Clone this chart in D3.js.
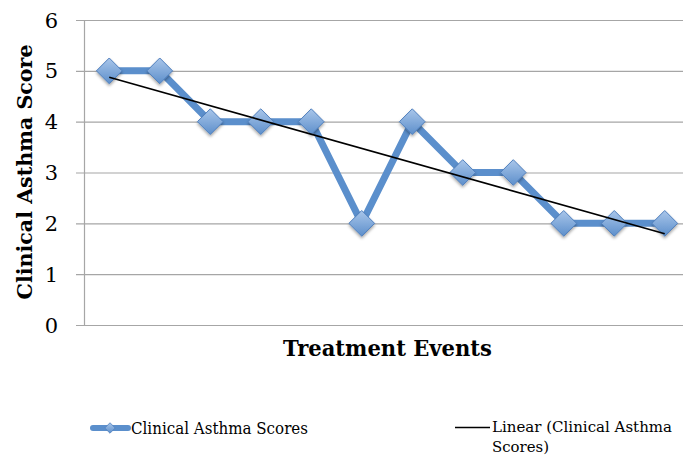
<!DOCTYPE html>
<html>
<head>
<meta charset="utf-8">
<script src="https://cdn.jsdelivr.net/npm/d3@7"></script>
<style>
  body { margin: 0; background: #fff; }
  text { font-family: "DejaVu Serif", "Liberation Serif", serif; fill: #000; }
</style>
</head>
<body>
<svg id="chart" width="683" height="457"></svg>
<script>
const width = 683, height = 457;

// data
const events = ["1", "2", "3", "4", "5", "6", "7", "8", "9", "10", "11", "12"];
const scores = [5, 5, 4, 4, 4, 2, 4, 3, 3, 2, 2, 2];
const yTicks = [0, 1, 2, 3, 4, 5, 6];
const seriesName = "Clinical Asthma Scores";
const trendName = ["Linear (Clinical Asthma", "Scores)"];

const margin = { left: 84, top: 20, bottom: 325 };

const svg = d3.select("#chart");

const x = d3.scaleBand()
    .domain(events)
    .range([margin.left, margin.left + 50.5 * events.length]);

const y = d3.scaleLinear()
    .domain([0, 6])
    .range([margin.bottom, margin.top]);

const cx = d => x(d) + x.bandwidth() / 2;

// gradient + shadow for diamonds
const defs = svg.append("defs");
const grad = defs.append("linearGradient")
    .attr("id", "dgrad").attr("x1", 0).attr("y1", 0).attr("x2", 0).attr("y2", 1);
grad.append("stop").attr("offset", "0%").attr("stop-color", "#a9c6ea");
grad.append("stop").attr("offset", "100%").attr("stop-color", "#5d8fcb");
const shadow = defs.append("filter").attr("id", "shadow")
    .attr("x", "-50%").attr("y", "-50%").attr("width", "200%").attr("height", "200%");
shadow.append("feDropShadow").attr("dx", 0).attr("dy", 2).attr("stdDeviation", 1.5)
    .attr("flood-color", "#000").attr("flood-opacity", 0.35);

// grid lines
svg.append("g")
    .selectAll("line")
    .data(yTicks)
    .join("line")
    .attr("x1", margin.left - 8)
    .attr("x2", width)
    .attr("y1", d => y(d) + 0.5)
    .attr("y2", d => y(d) + 0.5)
    .attr("stroke", "#a6a6a6")
    .attr("stroke-width", 1.2);

// y axis line
svg.append("line")
    .attr("x1", margin.left + 0.5).attr("x2", margin.left + 0.5)
    .attr("y1", y(6)).attr("y2", y(0))
    .attr("stroke", "#a6a6a6").attr("stroke-width", 1.2);

// y tick labels
svg.append("g")
    .selectAll("text")
    .data(yTicks)
    .join("text")
    .attr("x", 58)
    .attr("y", d => y(d))
    .attr("dy", "0.36em")
    .attr("text-anchor", "end")
    .attr("font-size", 21)
    .text(d => d);

// axis titles
svg.append("text")
    .attr("transform", "translate(32,172) rotate(-90)")
    .attr("text-anchor", "middle")
    .attr("font-size", 20.5)
    .attr("font-weight", "bold")
    .attr("textLength", 255)
    .attr("lengthAdjust", "spacingAndGlyphs")
    .text("Clinical Asthma Score");

svg.append("text")
    .attr("x", 387.5)
    .attr("y", 356)
    .attr("text-anchor", "middle")
    .attr("font-size", 21.5)
    .attr("font-weight", "bold")
    .attr("textLength", 209)
    .attr("lengthAdjust", "spacingAndGlyphs")
    .text("Treatment Events");

// series line
const line = d3.line()
    .x((d, i) => cx(events[i]))
    .y(d => y(d));

svg.append("path")
    .datum(scores)
    .attr("d", line)
    .attr("fill", "none")
    .attr("stroke", "#5b8fcc")
    .attr("stroke-width", 7);

// diamonds
const diamond = d3.symbol().type(d3.symbolDiamond2).size(420);
svg.append("g")
    .selectAll("path")
    .data(scores)
    .join("path")
    .attr("transform", (d, i) => `translate(${cx(events[i])},${y(d)})`)
    .attr("d", diamond)
    .attr("fill", "url(#dgrad)")
    .attr("stroke", "#4f7fbd")
    .attr("stroke-width", 1)
    .attr("filter", "url(#shadow)");

// linear trend line (least squares on the series)
const xs = scores.map((d, i) => i + 1);
const mx = d3.mean(xs), my = d3.mean(scores);
const slope = d3.sum(xs, (v, i) => (v - mx) * (scores[i] - my)) / d3.sum(xs, v => (v - mx) ** 2);
const icpt = my - slope * mx;
svg.append("line")
    .attr("x1", cx(events[0]))
    .attr("y1", y(icpt + slope * 1))
    .attr("x2", cx(events[events.length - 1]))
    .attr("y2", y(icpt + slope * events.length))
    .attr("stroke", "#000")
    .attr("stroke-width", 1.6);

// legend
const lg = svg.append("g");
lg.append("line")
    .attr("x1", 93).attr("x2", 128).attr("y1", 428).attr("y2", 428)
    .attr("stroke", "#5b8fcc").attr("stroke-width", 6).attr("stroke-linecap", "round");
lg.append("path")
    .attr("transform", "translate(110,428)")
    .attr("d", d3.symbol().type(d3.symbolDiamond2).size(70))
    .attr("fill", "url(#dgrad)").attr("stroke", "#4f7fbd").attr("stroke-width", 0.8);
lg.append("text")
    .attr("x", 131).attr("y", 428).attr("dy", "0.35em")
    .attr("font-size", 16)
    .attr("textLength", 177)
    .attr("lengthAdjust", "spacingAndGlyphs")
    .text(seriesName);

lg.append("line")
    .attr("x1", 455).attr("x2", 490).attr("y1", 427.5).attr("y2", 427.5)
    .attr("stroke", "#000").attr("stroke-width", 1.4);
const trendLens = [180, 57];
lg.selectAll(".tl")
    .data(trendName)
    .join("text")
    .attr("class", "tl")
    .attr("x", 492)
    .attr("y", (d, i) => 427 + i * 20)
    .attr("dy", "0.35em")
    .attr("font-size", 15.5)
    .attr("textLength", (d, i) => trendLens[i])
    .attr("lengthAdjust", "spacingAndGlyphs")
    .text(d => d);
</script>
</body>
</html>
